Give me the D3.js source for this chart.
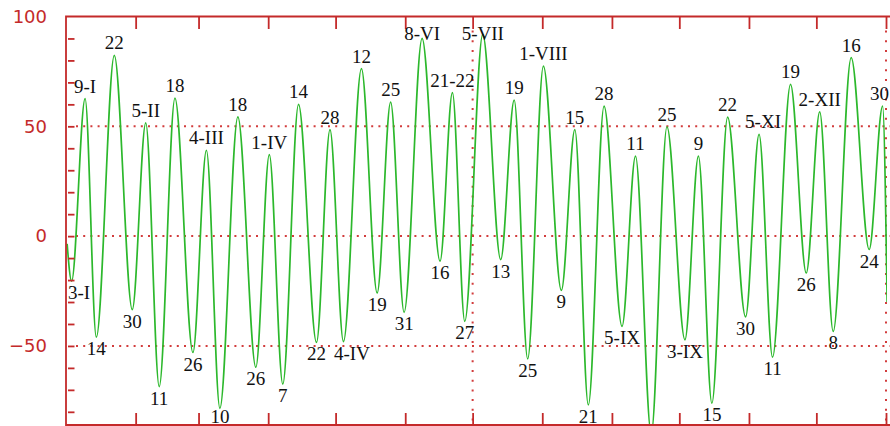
<!DOCTYPE html>
<html>
<head>
<meta charset="utf-8">
<script src="https://cdn.jsdelivr.net/npm/d3@7"></script>
<style>
  html, body { margin: 0; padding: 0; background: #fff; }
  svg { display: block; }
</style>
</head>
<body>
<svg id="chart" width="890" height="426"></svg>
<script>
// Turning points of the yearly oscillation: day of year (1 Jan = 1), level, and the date tag printed beside it.
const dayOfYear = [
  1, 3, 9, 14, 22, 30, 36, 42, 49, 57, 63, 69, 77, 85, 91, 97,
  104, 112, 118, 124, 132, 139, 145, 151, 159, 167, 172.5, 178,
  186, 194, 200, 206, 213, 221, 227, 233, 240, 248, 254, 261,
  268, 276, 282, 288, 295, 303, 309, 315, 323, 330, 336, 342,
  350, 358, 364, 366
];
const level = [
  -3.5, -20.5, 62.6, -46, 82.3, -33.5, 51.6, -68.5, 62.8, -53, 39.1, -78.4, 54.3, -59.7, 37.1, -67.4,
  60, -48.4, 48.5, -48, 76.3, -25.9, 61, -34.7, 90, -11.4, 65.3, -38.8,
  91.9, -10.7, 61.9, -55.9, 77.4, -24.7, 48.5, -76.9, 59.2, -41.1, 36.4, -90,
  49.8, -47.2, 36.4, -76.1, 54.2, -36.8, 46.3, -55.1, 69.1, -16.8, 56.6, -43.4,
  81.3, -6.1, 59.2, -30
];
const dateTag = [
  "", "3-I", "9-I", "14", "22", "30", "5-II", "11", "18", "26", "4-III", "10", "18", "26", "1-IV", "7",
  "14", "22", "28", "4-IV", "12", "19", "25", "31", "8-VI", "16", "21-22", "27",
  "5-VII", "13", "19", "25", "1-VIII", "9", "15", "21", "28", "5-IX", "11", "",
  "25", "3-IX", "9", "15", "22", "30", "5-XI", "11", "19", "26", "2-XII", "8",
  "16", "24", "30", ""
];

// Month boundaries (days elapsed) and the value-axis labels.
const monthEnds = [31, 59, 90, 120, 151, 181, 212, 243, 273, 304, 334, 365];
const yTickValues = [-50, 0, 50, 100];
const yMinorValues = d3.range(-80, 100, 10);
const gridLevels = [-50, 0, 50];
const gridDays = [181, 365];

const svg = d3.select("#chart");
const W = 890, H = 426;
const plotLeft = 66, plotTop = 16.5, plotBottom = 425, plotRight = 896;

const x = d3.scaleLinear().domain([0, 365]).range([plotLeft, 886]);
const y = d3.scaleLinear().domain([-86, 100]).range([plotBottom, plotTop]);

const axisRed = "#c42a2a";
const gridRed = "#d23c3c";

// dotted reference lines
svg.append("g").selectAll("line").data(gridLevels).join("line")
  .attr("x1", plotLeft + 10).attr("x2", W)
  .attr("y1", d => y(d)).attr("y2", d => y(d))
  .attr("stroke", gridRed).attr("stroke-width", 2)
  .attr("stroke-dasharray", "2 5.2");
svg.append("g").selectAll("line").data(gridDays).join("line")
  .attr("x1", d => x(d)).attr("x2", d => x(d))
  .attr("y1", plotTop + 14).attr("y2", plotBottom)
  .attr("stroke", gridRed).attr("stroke-width", 2)
  .attr("stroke-dasharray", "2 7.7");

// the oscillation curve
const series = dayOfYear.map((d, i) => ({ t: d - 0.5, v: level[i], tag: dateTag[i] }));
svg.append("defs").append("clipPath").attr("id", "plotClip")
  .append("rect").attr("x", plotLeft).attr("y", 0).attr("width", 887 - plotLeft).attr("height", H);
svg.append("path")
  .datum(series)
  .attr("clip-path", "url(#plotClip)")
  .attr("fill", "none")
  .attr("stroke", "#2cb82c")
  .attr("stroke-width", 1.7)
  .attr("stroke-linejoin", "round")
  .attr("d", d3.line().x(d => x(d.t)).y(d => y(d.v)).curve(d3.curveMonotoneX));

// frame
svg.append("path")
  .attr("d", `M${plotRight},${plotTop}H${plotLeft}V${plotBottom}H${plotRight}`)
  .attr("fill", "none").attr("stroke", axisRed).attr("stroke-width", 1.8);

// month ticks, top and bottom
const topAxis = svg.append("g").attr("transform", `translate(0,${plotTop})`)
  .call(d3.axisTop(x).tickValues(monthEnds).tickSize(-12.5).tickSizeOuter(0).tickFormat(""));
const botAxis = svg.append("g").attr("transform", `translate(0,${plotBottom})`)
  .call(d3.axisBottom(x).tickValues(monthEnds).tickSize(-12).tickSizeOuter(0).tickFormat(""));
[topAxis, botAxis].forEach(g => {
  g.select(".domain").remove();
  g.selectAll(".tick line").attr("stroke", axisRed).attr("stroke-width", 1.8);
});

// value axis labels
const yAxis = svg.append("g").attr("transform", `translate(${plotLeft},0)`)
  .call(d3.axisLeft(y).tickValues(yTickValues).tickSize(0).tickPadding(19));
yAxis.select(".domain").remove();
yAxis.selectAll(".tick text")
  .attr("fill", axisRed)
  .style("font-family", "'DejaVu Sans', Verdana, sans-serif")
  .style("font-size", "18px");

// minor value ticks just inside the frame
const yMinor = svg.append("g").attr("transform", `translate(${plotLeft + 2},0)`)
  .call(d3.axisRight(y).tickValues(yMinorValues).tickSize(6.5).tickFormat(""));
yMinor.select(".domain").remove();
yMinor.selectAll(".tick line").attr("stroke", axisRed).attr("stroke-width", 1.8);

// date tags at each turning point
const tagged = series.map((d, i) => {
  const prev = series[i - 1], next = series[i + 1];
  const isPeak = (prev ? d.v > prev.v : true) && (next ? d.v > next.v : true);
  return Object.assign({}, d, { isPeak });
}).filter(d => d.tag !== "");

// last tag placed above peaks and below troughs, for collision checks
const lastOnSide = { peak: null, trough: null };
svg.append("g").selectAll("text").data(tagged).join("text")
  .text(d => d.tag)
  .attr("text-anchor", "middle")
  .attr("x", d => x(d.t))
  .attr("y", d => d.isPeak ? Math.max(y(d.v) - 6, 40) : Math.min(y(d.v) + 18, 423))
  .attr("fill", "#111")
  .style("font-family", "'Liberation Serif', 'Times New Roman', serif")
  .style("font-size", "19px")
  .each(function (d) {
    const t = d3.select(this);
    const side = d.isPeak ? "peak" : "trough";
    let bb = this.getBBox();
    let shift = 0;
    // keep tags inside the frame
    if (bb.x < plotLeft + 2) shift = plotLeft + 2 - bb.x;
    if (bb.x + bb.width > W - 1) shift = W - 1 - (bb.x + bb.width);
    // push a tag right when it would run into its neighbour on the same side
    const last = lastOnSide[side];
    if (last) {
      const x0 = bb.x + shift;
      const vOverlap = bb.y < last.y + last.height && last.y < bb.y + bb.height;
      if (vOverlap && x0 < last.x + last.width + 8) shift += last.x + last.width + 8 - x0;
    }
    t.attr("x", +t.attr("x") + shift);
    lastOnSide[side] = this.getBBox();
  });
</script>
</body>
</html>
